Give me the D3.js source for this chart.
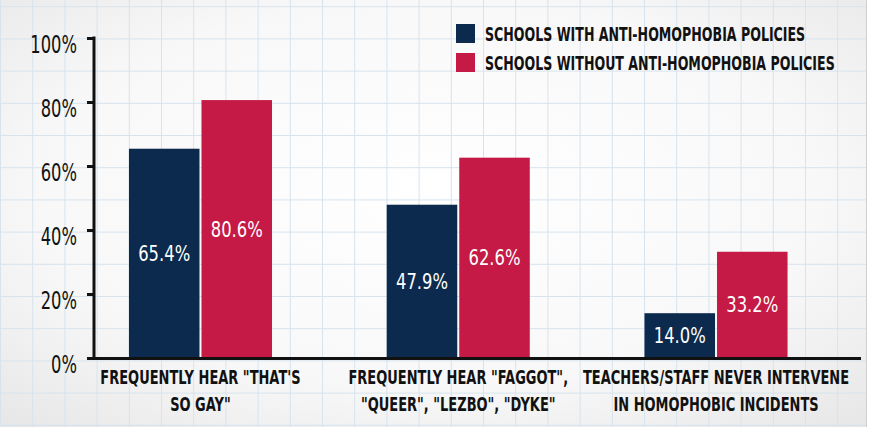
<!DOCTYPE html>
<html>
<head>
<meta charset="utf-8">
<script src="https://cdn.jsdelivr.net/npm/d3@7"></script>
<style>
  html, body { margin: 0; padding: 0; background: #ffffff; }
  svg { display: block; }
  text { font-family: "DejaVu Sans", "Liberation Sans", sans-serif; }
</style>
</head>
<body>
<svg id="chart" width="869" height="427"></svg>
<script>
// ---- data ----
const categories = [
  ['FREQUENTLY HEAR "THAT\'S', 'SO GAY"'],
  ['FREQUENTLY HEAR "FAGGOT",', '"QUEER", "LEZBO", "DYKE"'],
  ['TEACHERS/STAFF NEVER INTERVENE', 'IN HOMOPHOBIC INCIDENTS']
];
const seriesNames = ['SCHOOLS WITH ANTI-HOMOPHOBIA POLICIES', 'SCHOOLS WITHOUT ANTI-HOMOPHOBIA POLICIES'];
const withPolicy = [65.4, 47.9, 14.0];
const withoutPolicy = [80.6, 62.6, 33.2];
const yTicks = [0, 20, 40, 60, 80, 100];
const colors = ['#0c2a4d', '#c51a45'];

// ---- setup ----
const W = 869, H = 427;
const svg = d3.select('#chart');
const defs = svg.append('defs');

// narrow lettering: squeeze text horizontally around its anchor point (ax, ay)
function squeeze(sel, ax, ay, f) {
  sel.attr('x', 0).attr('y', 0)
    .attr('transform', (d, i) => `translate(${ax(d, i)},${ay(d, i)}) scale(${f},1)`);
}

// paper background
const rg = defs.append('radialGradient').attr('id', 'paper')
  .attr('cx', '50%').attr('cy', '45%').attr('r', '75%');
rg.append('stop').attr('offset', '0%').attr('stop-color', '#ffffff');
rg.append('stop').attr('offset', '60%').attr('stop-color', '#f8f8f8');
rg.append('stop').attr('offset', '100%').attr('stop-color', '#e6e6e6');
svg.append('rect').attr('x', 0).attr('y', 0).attr('width', W).attr('height', H).attr('fill', '#ffffff');
svg.append('rect').attr('x', 0).attr('y', 0).attr('width', 866).attr('height', H).attr('fill', 'url(#paper)');

// grid lines
const gridStep = 32.2;
const grid = svg.append('g').attr('stroke', '#d7e3ed').attr('stroke-width', 1);
d3.range(0.5, 866, gridStep).forEach(x => {
  grid.append('line').attr('x1', x).attr('x2', x).attr('y1', 0).attr('y2', H);
});
d3.range(6.7, H, gridStep).forEach(y => {
  grid.append('line').attr('x1', 0).attr('x2', 866).attr('y1', y).attr('y2', y);
});
// right paper edge
svg.append('line').attr('x1', 866.5).attr('x2', 866.5).attr('y1', 0).attr('y2', H)
  .attr('stroke', '#d0d0d0').attr('stroke-width', 1);

// ---- scales ----
const y = d3.scaleLinear().domain([0, 100]).range([358, 38]);
const x0 = d3.scaleBand().domain(d3.range(categories.length))
  .range([71.6, 844.9]).paddingInner(0.445).paddingOuter(0.2225);
const x1 = d3.scaleBand().domain([0, 1]).range([0, x0.bandwidth()]).paddingInner(0.0276);

const values = categories.map((c, i) => [withPolicy[i], withoutPolicy[i]]);

// ---- bars ----
const groups = svg.append('g').selectAll('g').data(values).join('g')
  .attr('transform', (d, i) => `translate(${x0(i)},0)`);
groups.selectAll('rect').data(d => d.map((v, s) => ({ v, s }))).join('rect')
  .attr('x', d => x1(d.s))
  .attr('y', d => y(d.v))
  .attr('width', x1.bandwidth())
  .attr('height', d => y(0) - y(d.v))
  .attr('fill', d => colors[d.s]);
const valueLabels = groups.selectAll('text').data(d => d.map((v, s) => ({ v, s }))).join('text')
  .attr('dy', '0.36em')
  .attr('text-anchor', 'middle')
  .attr('fill', '#ffffff')
  .attr('font-size', 21)
  .text(d => d.v.toFixed(1) + '%');
squeeze(valueLabels, d => x1(d.s) + x1.bandwidth() / 2, d => (y(d.v) + y(0)) / 2, 0.78);

// ---- y axis ----
const yAxis = svg.append('g').attr('transform', 'translate(94,0)')
  .call(d3.axisLeft(y).tickValues(yTicks).tickSize(7).tickPadding(10).tickFormat(d => d + '%'));
yAxis.select('.domain').attr('stroke', '#111').attr('stroke-width', 3)
  .attr('d', `M0,${y(100) - 1.5}V${y(0) + 1.5}`);
yAxis.selectAll('.tick line').attr('stroke', '#111').attr('stroke-width', 3);
const yTickText = yAxis.selectAll('.tick text').attr('fill', '#111')
  .attr('font-size', 24).attr('dy', '0.6em');
squeeze(yTickText, () => -17, () => 0, 0.68);

// ---- x axis ----
svg.append('line').attr('x1', 92.5).attr('x2', 861).attr('y1', y(0) + 0.5).attr('y2', y(0) + 0.5)
  .attr('stroke', '#111').attr('stroke-width', 3);
const xLabelGroups = svg.append('g').selectAll('g').data(categories).join('g')
  .attr('transform', (d, i) => `translate(${x0(i) + x0.bandwidth() / 2},0)`);
const xLabels = xLabelGroups.selectAll('text').data(d => d).join('text')
  .attr('text-anchor', 'middle')
  .attr('fill', '#111')
  .attr('font-size', 20)
  .attr('font-weight', 'bold')
  .text(d => d);
squeeze(xLabels, () => 0, (d, i) => 384 + i * 27, 0.65);

// ---- legend ----
const legend = svg.append('g').selectAll('g').data(seriesNames).join('g')
  .attr('transform', (d, i) => `translate(456,${24 + i * 29})`);
legend.append('rect').attr('width', 19).attr('height', 19).attr('fill', (d, i) => colors[i]);
const legendText = legend.append('text').attr('dy', '0.36em')
  .attr('fill', '#111').attr('font-size', 20).attr('font-weight', 'bold').text(d => d);
squeeze(legendText, () => 29, () => 10, 0.63);
</script>
</body>
</html>
